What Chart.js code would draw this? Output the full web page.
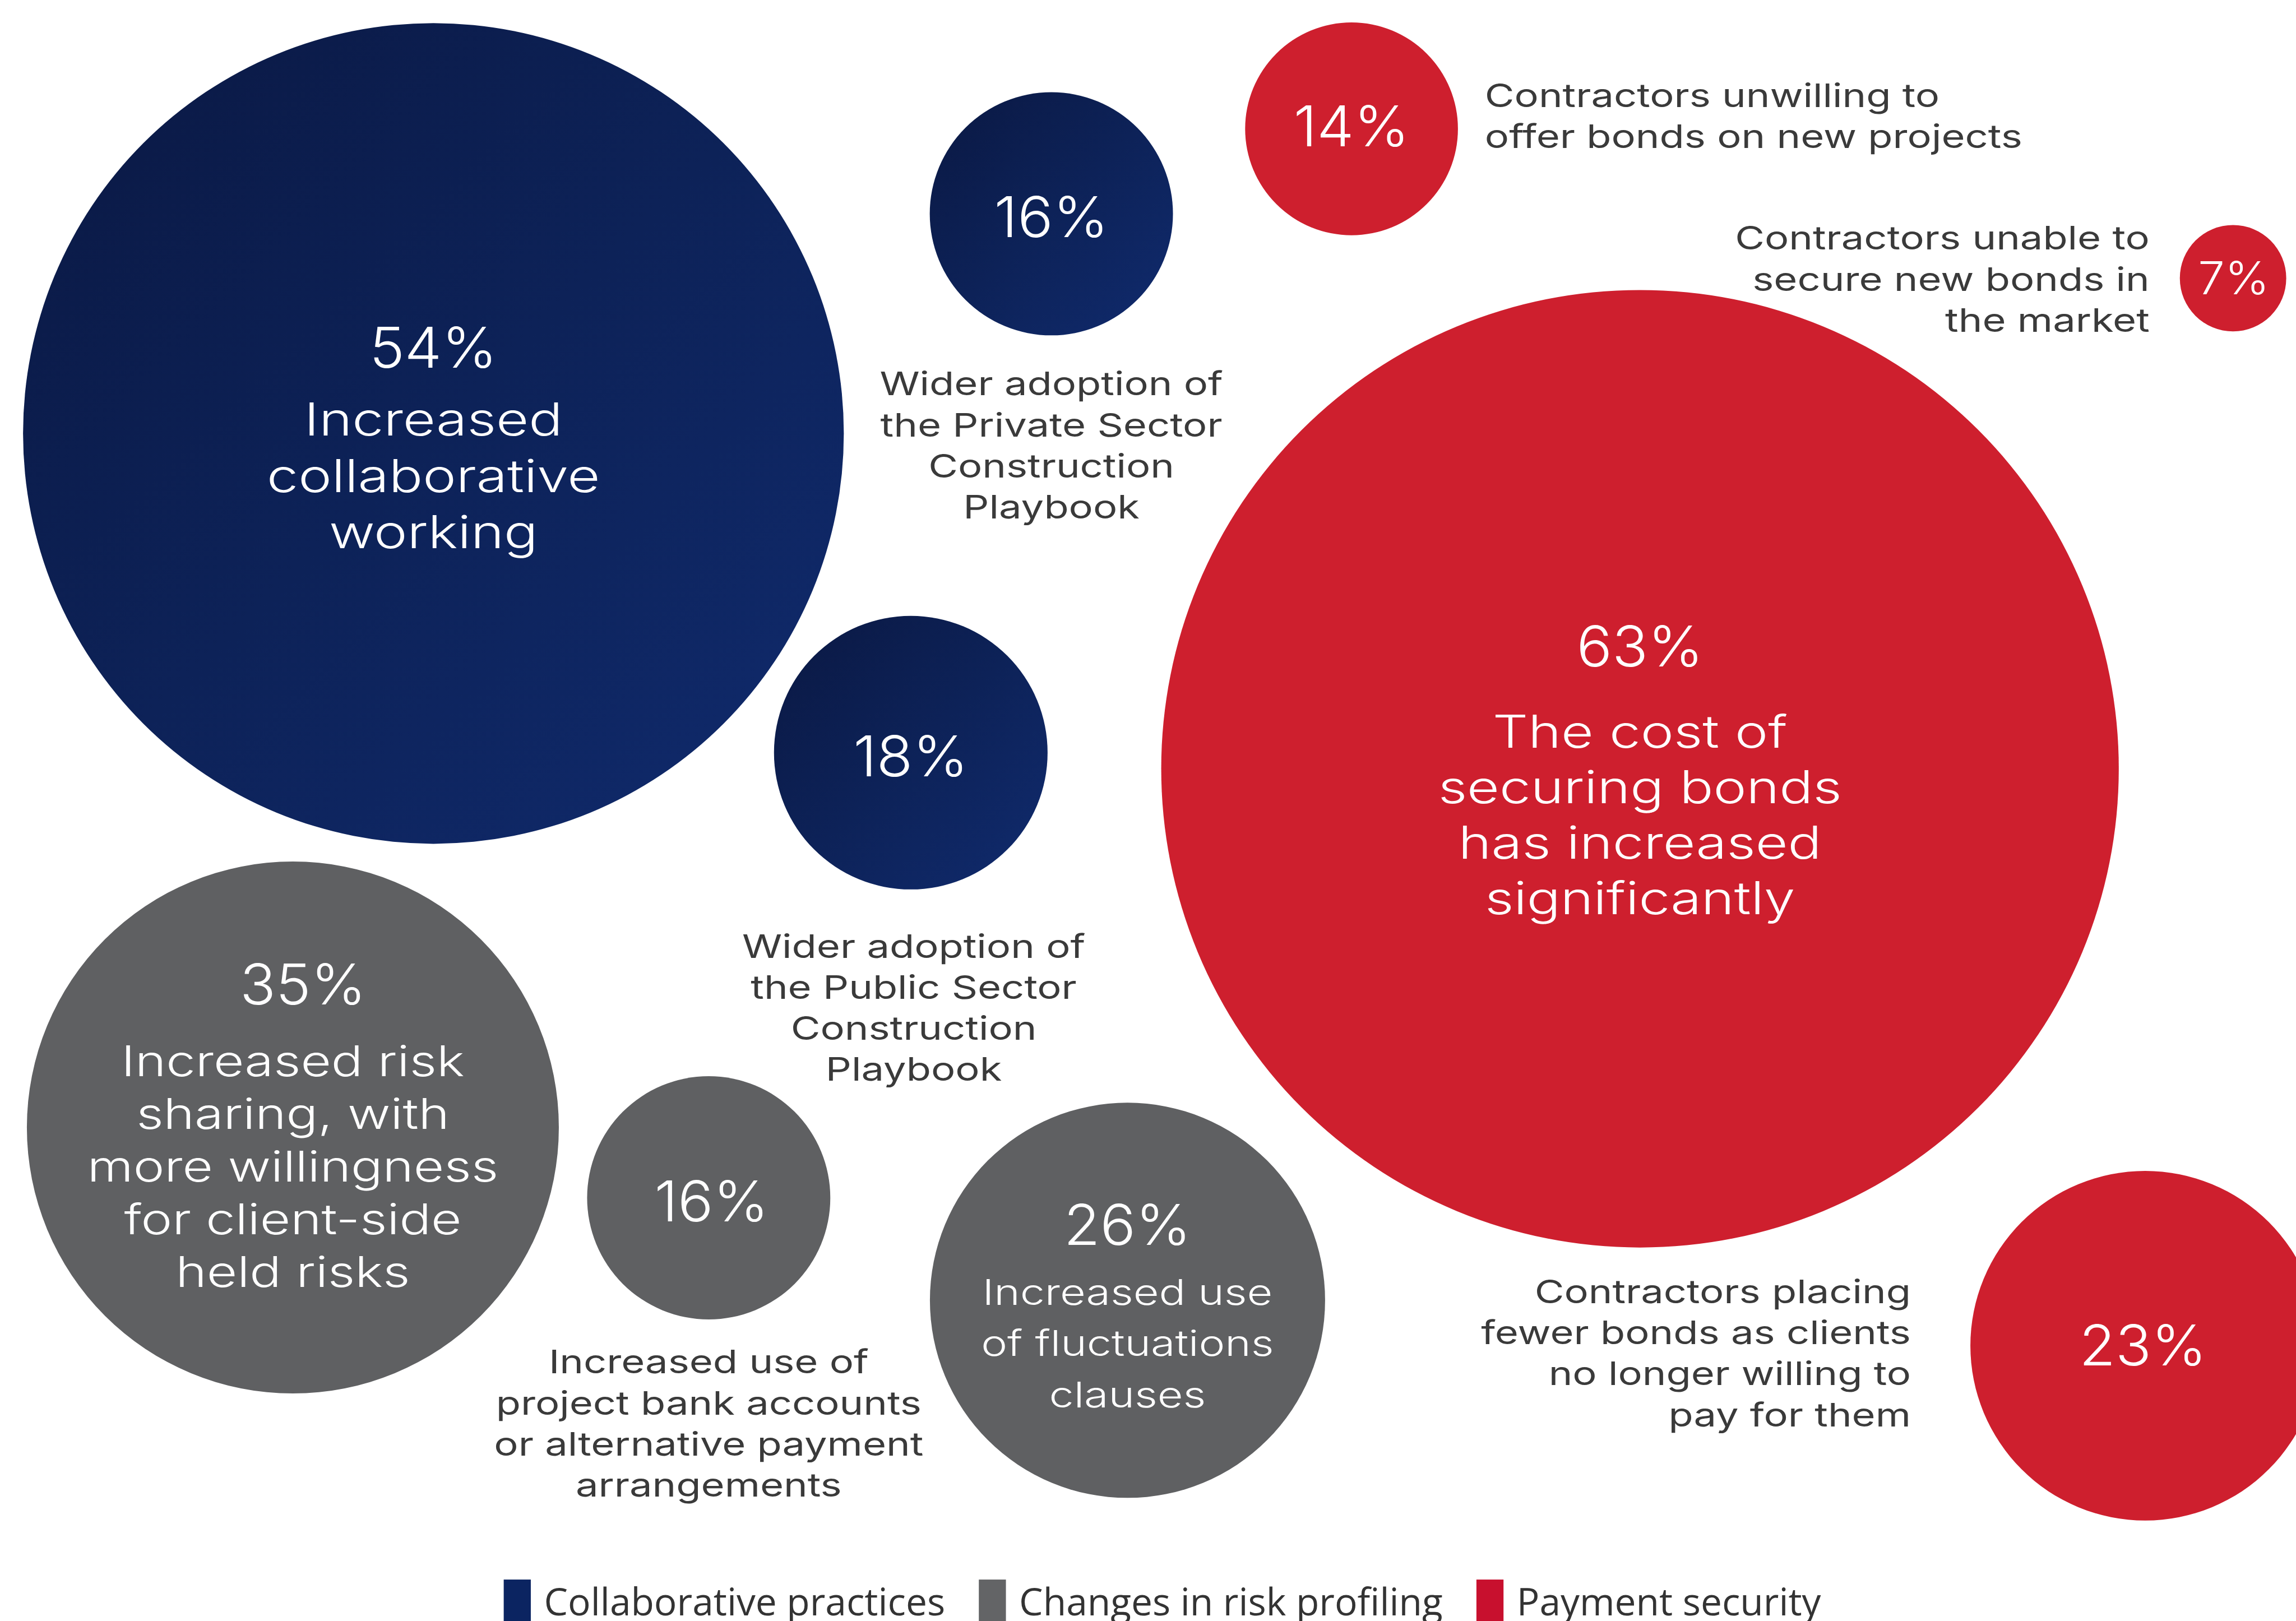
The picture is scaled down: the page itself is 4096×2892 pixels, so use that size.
<!DOCTYPE html>
<html>
<head>
<meta charset="utf-8">
<title>Bonds and payment security – survey responses</title>
<script src="https://cdn.jsdelivr.net/npm/chart.js@4/dist/chart.umd.min.js"></script>
<style>
  html, body { margin: 0; padding: 0; background: #ffffff; overflow: hidden; }
  #wrap { width: 4096px; height: 2892px; position: relative; }
</style>
</head>
<body>
<div id="wrap"><canvas id="chart"></canvas></div>
<script>
// ---- data ---------------------------------------------------------------
const groups = ['Collaborative practices', 'Changes in risk profiling', 'Payment security'];

// share of respondents (%) for each response, per group
const collaborativeShares = [54, 16, 18];
const riskShares = [35, 16, 26];
const paymentShares = [63, 14, 7, 23];

const collaborativeLabels = [
  ['Increased', 'collaborative', 'working'],
  ['Wider adoption of', 'the Private Sector', 'Construction', 'Playbook'],
  ['Wider adoption of', 'the Public Sector', 'Construction', 'Playbook']
];
const riskLabels = [
  ['Increased risk', 'sharing, with', 'more willingness', 'for client-side', 'held risks'],
  ['Increased use of', 'project bank accounts', 'or alternative payment', 'arrangements'],
  ['Increased use', 'of fluctuations', 'clauses']
];
const paymentLabels = [
  ['The cost of', 'securing bonds', 'has increased', 'significantly'],
  ['Contractors unwilling to', 'offer bonds on new projects'],
  ['Contractors unable to', 'secure new bonds in', 'the market'],
  ['Contractors placing', 'fewer bonds as clients', 'no longer willing to', 'pay for them']
];

// ---- layout (grid units, GRID_W x GRID_H) -------------------------------
const GRID_W = 1568, GRID_H = 1107;
const RADIUS_PER_SHARE = 5.19;          // grid units of radius per percentage point

const collaborativeCentres = [[296, 296], [718, 146], [622, 514]];
const riskCentres = [[200, 770], [484, 818], [770, 888]];
const paymentCentres = [[1120, 525], [923, 88], [1525, 190], [1465, 919]];

// where the percentage and the description of each bubble are written
const collaborativePlacement = [
  { num: [296, 251], text: [296, 297.5], gap: 38.5, size: 31, inside: true, align: 'center' },
  { num: [718, 162], text: [718, 270], gap: 28, size: 22.3, inside: false, align: 'center' },
  { num: [622, 530], text: [624, 654], gap: 28, size: 22.3, inside: false, align: 'center' }
];
const riskPlacement = [
  { num: [207, 686], text: [200, 735], gap: 36, size: 29, inside: true, align: 'center' },
  { num: [486, 834], text: [484, 938], gap: 28, size: 22.3, inside: false, align: 'center' },
  { num: [770, 850], text: [770, 891], gap: 35, size: 24.4, inside: true, align: 'center' }
];
const paymentPlacement = [
  { num: [1120, 455], text: [1120, 510.5], gap: 38, size: 30.8, inside: true, align: 'center' },
  { num: [923, 100], text: [1014, 73], gap: 28, size: 22.3, inside: false, align: 'left' },
  { num: [1525.5, 201], text: [1468, 170.5], gap: 28, size: 22.3, inside: false, align: 'right', numSize: 31 },
  { num: [1463.5, 932.5], text: [1305, 890], gap: 28, size: 22.3, inside: false, align: 'right' }
];

// ---- styles -------------------------------------------------------------
const NAVY = '#0d2258', NAVY_DARK = '#0b1b49', NAVY_LIGHT = '#0f2867';
const GREY = '#5f6062';
const RED = '#ce1f2e';
const LEGEND_COLOURS = ['#0b2461', '#636466', '#c8102e'];
const LABEL_FONT = 'Inter, "Noto Sans", sans-serif';
const LEGEND_FONT = '"Open Sans", "Noto Sans", sans-serif';
const INK = '#3a3a3a';

const NUM_SIZE = 38.5;
const TEXT_STRETCH = 1.24, NUM_STRETCH = 1.05;

const wrap = document.getElementById('wrap');
const pxPerUnit = wrap.clientWidth / GRID_W;   // the x scale spans the full canvas width

function toPoints(shares, centres, labels, placement) {
  return shares.map((v, i) => ({
    x: centres[i][0], y: centres[i][1],
    r: v * RADIUS_PER_SHARE * pxPerUnit,      // bubble radius grows with the share
    share: v, lines: labels[i], place: placement[i]
  }));
}

// navy bubbles get a soft diagonal shading
const navyShade = {
  id: 'navyShade',
  beforeDatasetsDraw(chart) {
    const meta = chart.getDatasetMeta(0);
    meta.data.forEach(el => {
      const r = el.options.radius;
      const g = chart.ctx.createLinearGradient(el.x - r * 0.7, el.y - r * 0.7, el.x + r * 0.7, el.y + r * 0.7);
      g.addColorStop(0, NAVY_DARK);
      g.addColorStop(0.5, NAVY);
      g.addColorStop(1, NAVY_LIGHT);
      el.options.backgroundColor = g;
    });
  }
};

// ---- text drawn on top of the bubbles -----------------------------------
function drawLine(c, str, x, y, size, weight, colour, align, stretch, family) {
  c.save();
  c.translate(x, y);
  c.scale(stretch, 1);
  c.font = weight + ' ' + size + 'px ' + family;
  c.fillStyle = colour;
  c.textAlign = align;
  c.textBaseline = 'alphabetic';
  c.fillText(str, 0, 0);
  c.restore();
}

const bubbleText = {
  id: 'bubbleText',
  afterDatasetsDraw(chart) {
    const c = chart.ctx, xs = chart.scales.x, ys = chart.scales.y;
    const unit = chart.width / GRID_W;
    chart.data.datasets.forEach(ds => {
      ds.data.forEach(p => {
        const pl = p.place;
        drawLine(c, p.share + '%', xs.getPixelForValue(pl.num[0]), ys.getPixelForValue(pl.num[1]),
          (pl.numSize || NUM_SIZE) * unit, 300, '#ffffff', 'center', NUM_STRETCH, LABEL_FONT);
        p.lines.forEach((line, i) => {
          drawLine(c, line, xs.getPixelForValue(pl.text[0]), ys.getPixelForValue(pl.text[1] + i * pl.gap),
            pl.size * unit, pl.inside ? 300 : 400, pl.inside ? '#ffffff' : INK, pl.align, TEXT_STRETCH, LABEL_FONT);
        });
      });
    });
  }
};

// ---- legend along the bottom edge ---------------------------------------
const bottomLegend = {
  id: 'bottomLegend',
  afterDraw(chart) {
    const c = chart.ctx, xs = chart.scales.x, ys = chart.scales.y;
    const unit = chart.width / GRID_W;
    const size = 25.9 * unit;
    let x = xs.getPixelForValue(344);
    const top = ys.getPixelForValue(1078.7);
    const base = ys.getPixelForValue(1103);
    c.save();
    c.font = '400 ' + size + 'px ' + LEGEND_FONT;
    c.textBaseline = 'alphabetic';
    c.textAlign = 'left';
    chart.data.datasets.forEach((ds, i) => {
      c.fillStyle = LEGEND_COLOURS[i];
      c.fillRect(x, top, 18.5 * unit, chart.height - top + 2);
      x += 27.5 * unit;
      c.fillStyle = '#333333';
      c.fillText(ds.label, x, base);
      x += c.measureText(ds.label).width + 23 * unit;
    });
    c.restore();
  }
};

new Chart(document.getElementById('chart'), {
  type: 'bubble',
  data: {
    datasets: [
      { label: groups[0], data: toPoints(collaborativeShares, collaborativeCentres, collaborativeLabels, collaborativePlacement),
        backgroundColor: NAVY, borderWidth: 0, clip: false },
      { label: groups[1], data: toPoints(riskShares, riskCentres, riskLabels, riskPlacement),
        backgroundColor: GREY, borderWidth: 0, clip: false },
      { label: groups[2], data: toPoints(paymentShares, paymentCentres, paymentLabels, paymentPlacement),
        backgroundColor: RED, borderWidth: 0, clip: false }
    ]
  },
  options: {
    responsive: true,
    maintainAspectRatio: false,
    devicePixelRatio: 1,
    animation: false,
    events: [],
    layout: { padding: 0, autoPadding: false },
    elements: { point: { hoverRadius: 0, borderWidth: 0 } },
    scales: {
      x: { type: 'linear', min: 0, max: GRID_W, display: false },
      y: { type: 'linear', min: 0, max: GRID_H, reverse: true, display: false }
    },
    plugins: { legend: { display: false }, tooltip: { enabled: false } }
  },
  plugins: [navyShade, bubbleText, bottomLegend]
});
</script>
</body>
</html>
